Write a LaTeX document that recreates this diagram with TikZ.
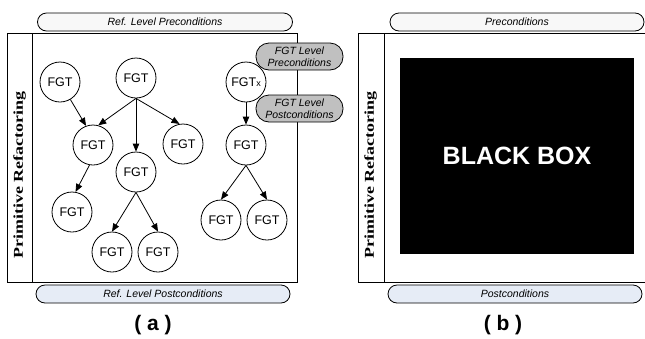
\documentclass[tikz,border=0pt]{standalone}
\usepackage{fontspec}
\setmainfont{Liberation Serif}
\setsansfont{Liberation Sans}
\usetikzlibrary{arrows.meta}
\definecolor{pillwhite}{HTML}{F8F8F8}
\definecolor{pillblue}{HTML}{E6ECF6}
\definecolor{pillgray}{HTML}{C0C0C0}
\tikzset{
  fgt/.style={circle, draw, line width=0.8pt, minimum size=40pt, inner sep=0pt, fill=white,
    font=\sffamily\fontsize{12.5}{13}\selectfont},
  arr/.style={line width=0.8pt, -{Triangle[length=8pt,width=6.5pt]}},
  pill/.style={draw, line width=0.8pt, rounded corners=9pt, inner sep=0pt,
    font=\sffamily\itshape\fontsize{10.5}{11}\selectfont},
  gpill/.style={draw, line width=0.8pt, rounded corners=13pt, inner sep=0pt, fill=pillgray,
    align=center, font=\sffamily\itshape\fontsize{10.5}{12.5}\selectfont},
  frame/.style={line width=0.8pt},
  sidelbl/.style={rotate=90, font=\bfseries\fontsize{13.5}{14}\selectfont},
  caption/.style={font=\sffamily\bfseries\fontsize{21}{22}\selectfont}
}
\begin{document}
\begin{tikzpicture}[x=1pt,y=-1pt]
\useasboundingbox (0,0) rectangle (645,338);
% ---------- panel (a)
\draw[frame] (7,33) rectangle (297,282);
\draw[frame] (32,33) -- (32,282);
\node[sidelbl] (la) at (19.5,175) {\scalebox{1.33}[1]{Primitive Refactoring}};
\node[pill, fill=pillwhite, minimum width=255pt, minimum height=18pt] (pa1) at (165,22) {Ref. Level Preconditions};
\node[pill, fill=pillblue, minimum width=254pt, minimum height=18pt] (pa2) at (163,294) {Ref. Level Postconditions};
\node[caption] (ca) at (153,325) {( a )};

\node[fgt] (f1) at (60,82) {FGT};
\node[fgt] (f2) at (136,78) {FGT};
\node[fgt] (f3) at (93,145) {FGT};
\node[fgt] (f4) at (183,144) {FGT};
\node[fgt] (f5) at (136,172) {FGT};
\node[fgt] (f6) at (72,212) {FGT};
\node[fgt] (f7) at (112,252) {FGT};
\node[fgt] (f8) at (158,252) {FGT};

\node[gpill, minimum width=87pt, minimum height=27pt] (gp1) at (299.5,56.5) {FGT Level\\Preconditions};
\node[gpill, minimum width=87pt, minimum height=27pt] (gp2) at (299.5,108.5) {FGT Level\\Postconditions};

\node[fgt] (fx) at (246,82) {FGT{\fontsize{9}{9}\selectfont x}};
\node[fgt] (fr) at (246,145) {FGT};
\node[fgt] (r1) at (221,220) {FGT};
\node[fgt] (r2) at (267,220) {FGT};

\draw[arr] (f1) -- (f3.110);
\draw[arr] (f2.south) -- (f3.75);
\draw[arr] (f2.south) -- (f4.100);
\draw[arr] (f2.south) -- (f5.north);
\draw[arr] (f3.-100) -- (f6.80);
\draw[arr] (f5.south) -- (f7.north);
\draw[arr] (f5.south) -- (f8.north);
\draw[arr] (fx.south) -- (fr.north);
\draw[arr] (fr.south) -- (r1.north);
\draw[arr] (fr.south) -- (r2.north);

% ---------- panel (b)
\draw[frame] (645,33) -- (358,33) -- (358,282) -- (645,282);
\draw[frame] (384,33) -- (384,282);
\node[sidelbl] (lb) at (370.5,175) {\scalebox{1.33}[1]{Primitive Refactoring}};
\node[fill=black, minimum width=234pt, minimum height=196pt, inner sep=0pt,
  text=white, font=\sffamily\bfseries\fontsize{25}{26}\selectfont] (bb) at (517,156) {BLACK BOX};
\node[pill, fill=pillwhite, minimum width=254pt, minimum height=18pt] (pb1) at (517,22) {Preconditions};
\node[pill, fill=pillblue, minimum width=254pt, minimum height=18pt] (pb2) at (515,294) {Postconditions};
\node[caption] (cb) at (503,325) {( b )};
\end{tikzpicture}
\end{document}
